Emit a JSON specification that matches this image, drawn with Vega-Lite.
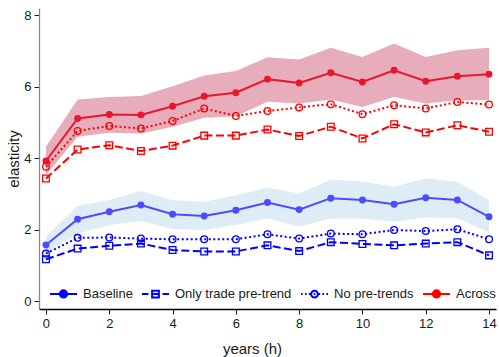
{
  "$schema": "https://vega.github.io/schema/vega-lite/v6.json",
  "width": 457,
  "height": 301,
  "autosize": {"type": "none"},
  "padding": {"left": 39, "top": 8, "right": 3, "bottom": 48},
  "background": "white",
  "config": {
    "view": {"stroke": null},
    "font": "Liberation Sans",
    "axis": {"grid": false, "labelFont": "Liberation Sans", "titleFont": "Liberation Sans", "labelFontSize": 13, "titleFontSize": 15, "titleFontWeight": "normal", "labelColor": "#1a1a1a", "titleColor": "#1a1a1a", "tickColor": "#1a1a1a", "tickSize": 5, "labelPadding": 3},
    "legend": {"labelFont": "Liberation Sans", "labelFontSize": 13, "labelColor": "#1a1a1a", "symbolSize": 729, "symbolStrokeWidth": 2, "labelOffset": 5, "columnPadding": 5, "padding": 0}
  },
  "datasets": {
    "est": [
      {"h": 0, "grp": "within", "baseline": 1.57, "trade": 1.17, "nopre": 1.33, "lo": 1.35, "hi": 1.80},
      {"h": 1, "grp": "within", "baseline": 2.29, "trade": 1.47, "nopre": 1.77, "lo": 1.89, "hi": 2.67},
      {"h": 2, "grp": "within", "baseline": 2.50, "trade": 1.55, "nopre": 1.78, "lo": 2.12, "hi": 2.83},
      {"h": 3, "grp": "within", "baseline": 2.69, "trade": 1.61, "nopre": 1.75, "lo": 2.24, "hi": 3.08},
      {"h": 4, "grp": "within", "baseline": 2.43, "trade": 1.43, "nopre": 1.73, "lo": 2.02, "hi": 2.82},
      {"h": 5, "grp": "within", "baseline": 2.38, "trade": 1.39, "nopre": 1.73, "lo": 1.99, "hi": 2.78},
      {"h": 6, "grp": "within", "baseline": 2.54, "trade": 1.39, "nopre": 1.73, "lo": 2.13, "hi": 2.96},
      {"h": 7, "grp": "within", "baseline": 2.76, "trade": 1.56, "nopre": 1.87, "lo": 2.31, "hi": 3.18},
      {"h": 8, "grp": "within", "baseline": 2.56, "trade": 1.40, "nopre": 1.75, "lo": 2.08, "hi": 3.01},
      {"h": 9, "grp": "within", "baseline": 2.88, "trade": 1.65, "nopre": 1.89, "lo": 2.31, "hi": 3.40},
      {"h": 10, "grp": "within", "baseline": 2.83, "trade": 1.60, "nopre": 1.87, "lo": 2.31, "hi": 3.35},
      {"h": 11, "grp": "within", "baseline": 2.71, "trade": 1.56, "nopre": 1.99, "lo": 2.22, "hi": 3.20},
      {"h": 12, "grp": "within", "baseline": 2.89, "trade": 1.61, "nopre": 1.96, "lo": 2.34, "hi": 3.44},
      {"h": 13, "grp": "within", "baseline": 2.83, "trade": 1.65, "nopre": 2.01, "lo": 2.32, "hi": 3.33},
      {"h": 14, "grp": "within", "baseline": 2.36, "trade": 1.28, "nopre": 1.73, "lo": 1.92, "hi": 2.82},
      {"h": 0, "grp": "across", "baseline": 3.92, "trade": 3.43, "nopre": 3.76, "lo": 3.53, "hi": 4.32},
      {"h": 1, "grp": "across", "baseline": 5.11, "trade": 4.24, "nopre": 4.76, "lo": 4.60, "hi": 5.64},
      {"h": 2, "grp": "across", "baseline": 5.22, "trade": 4.36, "nopre": 4.90, "lo": 4.71, "hi": 5.71},
      {"h": 3, "grp": "across", "baseline": 5.21, "trade": 4.20, "nopre": 4.83, "lo": 4.69, "hi": 5.74},
      {"h": 4, "grp": "across", "baseline": 5.45, "trade": 4.35, "nopre": 5.04, "lo": 4.88, "hi": 6.01},
      {"h": 5, "grp": "across", "baseline": 5.73, "trade": 4.63, "nopre": 5.39, "lo": 5.13, "hi": 6.31},
      {"h": 6, "grp": "across", "baseline": 5.83, "trade": 4.63, "nopre": 5.18, "lo": 5.17, "hi": 6.44},
      {"h": 7, "grp": "across", "baseline": 6.21, "trade": 4.80, "nopre": 5.32, "lo": 5.58, "hi": 6.82},
      {"h": 8, "grp": "across", "baseline": 6.10, "trade": 4.62, "nopre": 5.42, "lo": 5.53, "hi": 6.76},
      {"h": 9, "grp": "across", "baseline": 6.39, "trade": 4.88, "nopre": 5.51, "lo": 5.64, "hi": 7.09},
      {"h": 10, "grp": "across", "baseline": 6.13, "trade": 4.55, "nopre": 5.23, "lo": 5.43, "hi": 6.83},
      {"h": 11, "grp": "across", "baseline": 6.46, "trade": 4.95, "nopre": 5.48, "lo": 5.71, "hi": 7.21},
      {"h": 12, "grp": "across", "baseline": 6.15, "trade": 4.72, "nopre": 5.39, "lo": 5.53, "hi": 6.83},
      {"h": 13, "grp": "across", "baseline": 6.29, "trade": 4.92, "nopre": 5.57, "lo": 5.62, "hi": 7.02},
      {"h": 14, "grp": "across", "baseline": 6.35, "trade": 4.74, "nopre": 5.50, "lo": 5.62, "hi": 7.09}
    ]
  },
  "encoding": {
    "x": {"field": "h", "type": "quantitative", "scale": {"domain": [-0.22, 14.22], "nice": false, "zero": false},
      "axis": {"values": [0, 2, 4, 6, 8, 10, 12, 14], "format": "d", "title": "years (h)", "domainColor": "#000000", "domainWidth": 1.3, "titlePadding": 11, "titleX": 213}}
  },
  "layer": [
    {
      "data": {"name": "est"},
      "mark": {"type": "area", "opacity": 1},
      "encoding": {
        "y": {"field": "lo", "type": "quantitative", "scale": {"domain": [-0.22, 8.2], "nice": false, "zero": false},
          "axis": {"values": [0, 2, 4, 6, 8], "title": "elasticity", "domainColor": "#8a8a8a", "domainWidth": 1.3, "titlePadding": 2}},
        "y2": {"field": "hi"},
        "color": {"field": "grp", "type": "nominal", "scale": {"domain": ["within", "across"], "range": ["#deedf5", "#e8adbb"]}, "legend": null}
      }
    },
    {
      "data": {"name": "est"},
      "mark": {"type": "line", "strokeWidth": 2},
      "encoding": {
        "y": {"field": "baseline", "type": "quantitative"},
        "color": {"field": "grp", "type": "nominal", "scale": {"domain": ["within", "across"], "range": ["#4b4bff", "#e8172d"]}, "legend": null}
      }
    },
    {
      "data": {"name": "est"},
      "mark": {"type": "point", "filled": true, "shape": "circle", "size": 48, "opacity": 1},
      "encoding": {
        "y": {"field": "baseline", "type": "quantitative"},
        "color": {"field": "grp", "type": "nominal", "scale": {"domain": ["within", "across"], "range": ["#4b4bff", "#e8172d"]}, "legend": null}
      }
    },
    {
      "data": {"name": "est"},
      "transform": [{"fold": ["trade", "nopre"], "as": ["spec", "val"]}],
      "mark": {"type": "line", "strokeWidth": 2},
      "encoding": {
        "y": {"field": "val", "type": "quantitative"},
        "color": {"field": "grp", "type": "nominal", "scale": {"domain": ["within", "across"], "range": ["#0000ff", "#ff0000"]}, "legend": null},
        "strokeDash": {"field": "spec", "type": "nominal", "scale": {"domain": ["trade", "nopre"], "range": [[8, 3.5], [2, 2.5]]}, "legend": null},
        "detail": {"field": "spec"}
      }
    },
    {
      "data": {"name": "est"},
      "mark": {"type": "point", "filled": false, "shape": "square", "size": 45, "strokeWidth": 1.3, "opacity": 1},
      "encoding": {
        "y": {"field": "trade", "type": "quantitative"},
        "color": {"field": "grp", "type": "nominal", "scale": {"domain": ["within", "across"], "range": ["#0000ff", "#ff0000"]}, "legend": null}
      }
    },
    {
      "data": {"name": "est"},
      "mark": {"type": "point", "filled": false, "shape": "circle", "size": 45, "strokeWidth": 1.3, "opacity": 1},
      "encoding": {
        "y": {"field": "nopre", "type": "quantitative"},
        "color": {"field": "grp", "type": "nominal", "scale": {"domain": ["within", "across"], "range": ["#0000ff", "#ff0000"]}, "legend": null}
      }
    },
    {
      "data": {"values": []},
      "mark": {"type": "point", "filled": false, "opacity": 1, "strokeWidth": 2},
      "encoding": {
        "shape": {"field": "label", "type": "nominal",
          "scale": {"domain": ["Baseline", "Only trade pre-trend", "No pre-trends", "Across"],
            "range": [
              "M-1,0L1,0M0.27,0A0.27,0.27,0,1,1,-0.27,0A0.27,0.27,0,1,1,0.27,0Z",
              "M-1,0L-0.52,0M0.52,0L1,0M-0.25,-0.25L0.25,-0.25L0.25,0.25L-0.25,0.25ZM-0.25,0L0.25,0",
              "M-1,0L-0.88,0M-0.7,0L-0.58,0M-0.42,0L-0.3,0M0.3,0L0.42,0M0.58,0L0.7,0M0.88,0L1,0M0.25,0A0.25,0.25,0,1,1,-0.25,0A0.25,0.25,0,1,1,0.25,0ZM-0.06,0L0.06,0",
              "M-1,0L1,0M0.27,0A0.27,0.27,0,1,1,-0.27,0A0.27,0.27,0,1,1,0.27,0Z"
            ]},
          "legend": {"title": null, "orient": "none", "legendX": 10, "legendY": 271, "direction": "horizontal", "columns": 4}},
        "stroke": {"field": "label", "type": "nominal",
          "scale": {"domain": ["Baseline", "Only trade pre-trend", "No pre-trends", "Across"], "range": ["#0000ff", "#0000ff", "#0000ff", "#ff0000"]},
          "legend": {"title": null, "orient": "none", "legendX": 10, "legendY": 271, "direction": "horizontal", "columns": 4}},
        "fill": {"field": "label", "type": "nominal",
          "scale": {"domain": ["Baseline", "Only trade pre-trend", "No pre-trends", "Across"], "range": ["#0000ff", "transparent", "transparent", "#ff0000"]},
          "legend": {"title": null, "orient": "none", "legendX": 10, "legendY": 271, "direction": "horizontal", "columns": 4}}
      }
    }
  ],
  "resolve": {"scale": {"color": "independent", "strokeDash": "independent", "shape": "independent", "stroke": "independent", "fill": "independent"}}
}
